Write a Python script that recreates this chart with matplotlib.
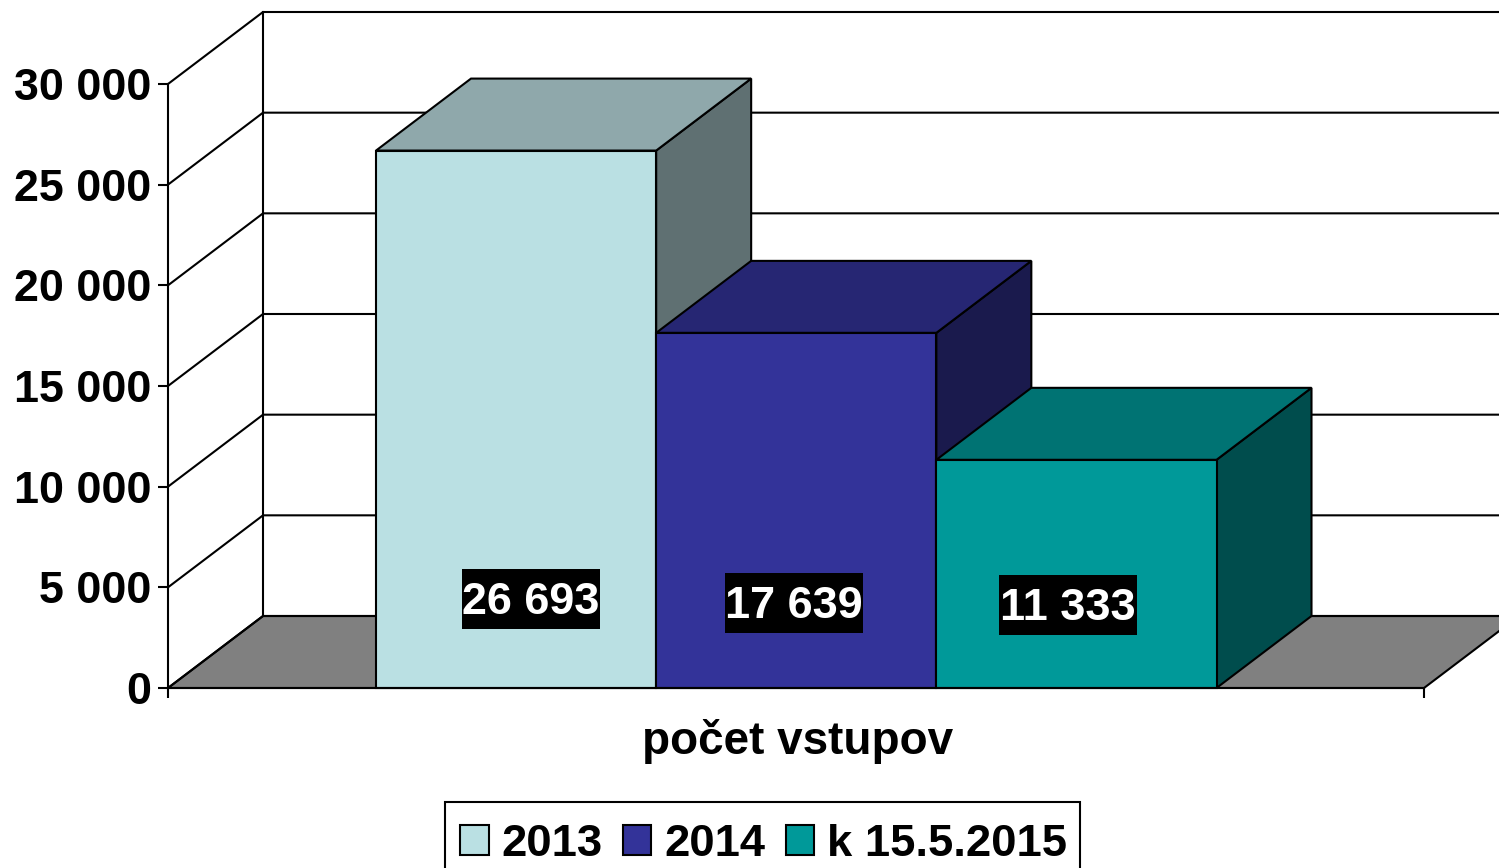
import matplotlib
matplotlib.use("Agg")
import matplotlib.pyplot as plt
from matplotlib.patches import Patch, Polygon, Rectangle

plt.rcParams['font.family'] = ['Liberation Sans', 'DejaVu Sans']
plt.rcParams['font.weight'] = 'bold'

# data
series_names = ['2013', '2014', 'k 15.5.2015']
values = [26693, 17639, 11333]
category = 'počet vstupov'
y_ticks = [0, 5000, 10000, 15000, 20000, 25000, 30000]

# colours of each bar: front, top, side
front_colors = ['#BAE0E3', '#333399', '#009999']
top_colors = ['#8FA8AB', '#262673', '#007373']
side_colors = ['#5F7072', '#1A1A4D', '#004D4D']

# picture geometry in pixels, used for the limits of the axes
W, H = 1499, 868
x0_px, x1_px = 168, 1424
y0_px, y30k_px = 688, 84
depth_x_px, depth_y_px = 95, 72

x_per_px = 1 / (x1_px - x0_px)
y_per_px = 30000 / (y0_px - y30k_px)
depth_x = depth_x_px * x_per_px
depth_y = depth_y_px * y_per_px

bar_left = (376 - x0_px) * x_per_px
bar_width = (1216.5 - 376) / 3 * x_per_px

lw = 1.5


def px_x(p):
    return (p - x0_px) * x_per_px


def px_y(p):
    return (y0_px - p) * y_per_px


fig = plt.figure(figsize=(W / 100, H / 100), dpi=100)
ax = fig.add_axes([0, 0, 1, 1])
ax.set_xlim(px_x(0), px_x(W))
ax.set_ylim(px_y(H), px_y(0))
ax.patch.set_visible(False)

# floor
ax.add_patch(Polygon([(0, 0), (depth_x, depth_y), (1 + depth_x, depth_y), (1, 0)],
                     facecolor='#808080', edgecolor='black', lw=lw, zorder=1))

# back wall and side wall
top = 30000 + depth_y
for t in y_ticks:
    ax.plot([0, depth_x, 1 + depth_x], [t, t + depth_y, t + depth_y], color='black', lw=lw, zorder=1, solid_joinstyle='miter')
ax.plot([depth_x, depth_x], [depth_y, top], color='black', lw=lw, zorder=1)

# bars, left to right so that each one covers the side of the one before
for i, v in enumerate(values):
    x = bar_left + i * bar_width
    w = bar_width
    ax.add_patch(Polygon([(x + w, 0), (x + w + depth_x, depth_y), (x + w + depth_x, v + depth_y), (x + w, v)],
                         facecolor=side_colors[i], edgecolor='black', lw=lw, zorder=2 + i))
    ax.add_patch(Polygon([(x, v), (x + depth_x, v + depth_y), (x + w + depth_x, v + depth_y), (x + w, v)],
                         facecolor=top_colors[i], edgecolor='black', lw=lw, zorder=2 + i))
    ax.bar(x, v, width=w, align='edge', color=front_colors[i], edgecolor='black', lw=lw, zorder=2 + i)

# value labels, black box 138 x 60 px behind white text
label_x = [531, 794, 1068]
label_y = [599, 603, 604.5]
for v, lx, ly in zip(values, label_x, label_y):
    ax.add_patch(Rectangle((px_x(lx - 69), px_y(ly + 30)), 138 * x_per_px, 60 * y_per_px,
                           facecolor='black', edgecolor='none', zorder=9))
    ax.text(px_x(lx), px_y(ly + 15.5), f"{v:,}".replace(",", " "), color='white', fontsize=32.4,
            ha='center', va='baseline', zorder=10)

# axes
for s in ['top', 'right']:
    ax.spines[s].set_visible(False)
ax.spines['left'].set_position(('data', 0))
ax.spines['left'].set_bounds(0, 30000)
ax.spines['bottom'].set_position(('data', 0))
ax.spines['bottom'].set_bounds(0, 1)
for s in ['left', 'bottom']:
    ax.spines[s].set_linewidth(lw)
    ax.spines[s].set_zorder(8)
ax.set_yticks(y_ticks)
ax.set_yticklabels([f"{t:,}".replace(",", " ") for t in y_ticks], fontsize=32.3)
ax.set_xticks([0, 1])
ax.set_xticklabels(['', ''])
ax.tick_params(axis='both', length=7.2, width=lw)
ax.tick_params(axis='y', pad=5)

ax.text(px_x(797.5), px_y(754), category, fontsize=33, ha='center', va='baseline')

# legend, the frame runs off the bottom of the picture
ax.add_patch(Rectangle((px_x(444.5), px_y(880)), 635 * x_per_px, 78 * y_per_px,
                       facecolor='white', edgecolor='black', lw=lw, zorder=11))
handles = [Patch(facecolor=c, edgecolor='black', lw=lw) for c in front_colors]
leg = ax.legend(handles, series_names, ncol=3, fontsize=32.7, loc='upper left',
                bbox_to_anchor=(444 / W, 1 - 808 / H), borderaxespad=0, frameon=False,
                handlelength=0.63, handleheight=0.63,
                handletextpad=0.28, columnspacing=0.45, borderpad=0.35)
leg.set_zorder(12)

fig.savefig('out.png', dpi=100)
